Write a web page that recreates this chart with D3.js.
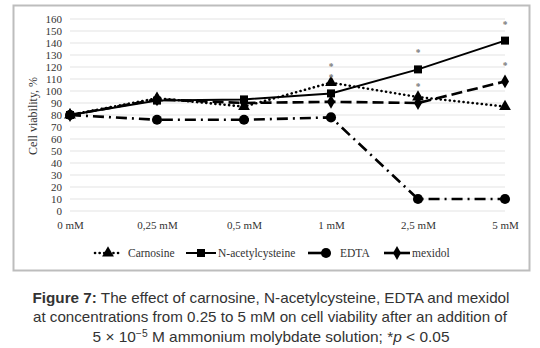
<!DOCTYPE html>
<html>
<head>
<meta charset="utf-8">
<script src="https://cdn.jsdelivr.net/npm/d3@7.9.0/dist/d3.min.js"></script>
<style>
  body { margin: 0; background: #fff; }
  svg { display: block; }
  .caption { font-family: "Liberation Sans", Arial, sans-serif; font-size: 15px; fill: #333; }
</style>
</head>
<body>
<svg id="chart" width="540" height="348"></svg>
<script>
// data
const categories = ['0 mM', '0,25 mM', '0,5 mM', '1 mM', '2,5 mM', '5 mM'];
const carnosine = [80, 94, 87, 107, 95, 87];
const nac = [80, 92, 93, 98, 118, 142];
const edta = [80, 76, 76, 78, 10, 10];
const mexidol = [80, 93, 90, 91, 90, 108];
const yTicks = d3.range(0, 161, 10);
// significance stars: [category index, value]
const stars = [[3, 123], [3, 114], [4, 135], [4, 106], [5, 158], [5, 124]];

const series = [
  { name: 'Carnosine', values: carnosine, dash: '0.1 4.5', cap: 'round', width: 2.6, marker: d3.symbolTriangle, size: 60 },
  { name: 'N-acetylcysteine', values: nac, dash: null, cap: 'butt', width: 2, marker: d3.symbolSquare, size: 64 },
  { name: 'EDTA', values: edta, dash: '11 5 2 5', cap: 'butt', width: 2.6, marker: d3.symbolCircle, size: 80 },
  { name: 'mexidol', values: mexidol, dash: '11 5', cap: 'butt', width: 2.6, marker: d3.symbolDiamond, size: 55 }
];

const svg = d3.select('#chart');
const font = '"Liberation Serif", "Times New Roman", serif';

// outer frame
svg.append('rect')
  .attr('x', 13.5).attr('y', 5.5).attr('width', 516).attr('height', 265)
  .attr('fill', '#fff').attr('stroke', '#bdbdbd').attr('stroke-width', 2);

const x = d3.scalePoint().domain(categories).range([70, 505]);
const y = d3.scaleLinear().domain([0, 160]).range([211, 19]);

// gridlines
svg.append('g').selectAll('line').data(yTicks).join('line')
  .attr('x1', 70).attr('x2', 505)
  .attr('y1', d => y(d)).attr('y2', d => y(d))
  .attr('stroke', '#e3e3e3').attr('stroke-width', 1);

// y axis labels
const yAxis = svg.append('g').attr('transform', 'translate(66,0)')
  .call(d3.axisLeft(y).tickValues(yTicks).tickSize(0).tickPadding(4));
yAxis.select('.domain').remove();
yAxis.selectAll('text').attr('font-family', font).attr('font-size', 11).attr('fill', '#333');

// x axis labels
const xAxis = svg.append('g').attr('transform', 'translate(0,221)')
  .call(d3.axisBottom(x).tickSize(0).tickPadding(0));
xAxis.select('.domain').remove();
xAxis.selectAll('text').attr('font-family', font).attr('font-size', 11).attr('fill', '#333');

// y title
svg.append('text')
  .attr('transform', 'translate(37,116) rotate(-90)')
  .attr('text-anchor', 'middle')
  .attr('font-family', font).attr('font-size', 12).attr('fill', '#333')
  .text('Cell viability, %');

const line = d3.line().x((d, i) => x(categories[i])).y(d => y(d));

series.forEach(s => {
  svg.append('path')
    .attr('d', line(s.values))
    .attr('fill', 'none').attr('stroke', '#000')
    .attr('stroke-width', s.width)
    .attr('stroke-dasharray', s.dash)
    .attr('stroke-linecap', s.cap);
  svg.append('g').selectAll('path').data(s.values).join('path')
    .attr('transform', (d, i) => `translate(${x(categories[i])},${y(d)})`)
    .attr('d', d3.symbol().type(s.marker).size(s.size))
    .attr('fill', '#000');
});

// stars
svg.append('g').selectAll('text').data(stars).join('text')
  .attr('x', d => x(categories[d[0]]))
  .attr('y', d => y(d[1]) + 6.5)
  .attr('text-anchor', 'middle')
  .attr('font-family', font).attr('font-size', 9.5).attr('font-weight', 'bold').attr('fill', '#7a7a7a')
  .text('*');

// legend: line start, line end, marker position, text start
const legendPos = [
  [95, 122, 108, 128],
  [186, 216, 201, 218],
  [308, 326, 326, 340],
  [384, 410, 397, 412]
];
series.forEach((s, i) => {
  const g = svg.append('g');
  const ly = 253;
  const [x0, x1, xm, xt] = legendPos[i];
  g.append('line')
    .attr('x1', x0).attr('x2', x1).attr('y1', ly).attr('y2', ly)
    .attr('stroke', '#000').attr('stroke-width', s.width)
    .attr('stroke-dasharray', s.name === 'Carnosine' ? s.dash : null)
    .attr('stroke-linecap', s.cap);
  g.append('path')
    .attr('transform', `translate(${xm},${ly})`)
    .attr('d', d3.symbol().type(s.marker).size(s.size))
    .attr('fill', '#000');
  g.append('text')
    .attr('x', xt).attr('y', ly + 4)
    .attr('font-family', font).attr('font-size', 11.5).attr('fill', '#333')
    .text(s.name);
});

// caption
const cap = svg.append('g').attr('class', 'caption').attr('text-anchor', 'middle');
const l1 = cap.append('text').attr('x', 271).attr('y', 303).attr('textLength', 477).attr('lengthAdjust', 'spacingAndGlyphs');
l1.append('tspan').attr('font-weight', 'bold').text('Figure 7:');
l1.append('tspan').text(' The effect of carnosine, N-acetylcysteine, EDTA and mexidol');
cap.append('text').attr('x', 270).attr('y', 322).attr('textLength', 474).attr('lengthAdjust', 'spacingAndGlyphs')
  .text('at concentrations from 0.25 to 5 mM on cell viability after an addition of');
const l3 = cap.append('text').attr('x', 271).attr('y', 342).attr('textLength', 357).attr('lengthAdjust', 'spacingAndGlyphs');
l3.append('tspan').text('5 × 10');
l3.append('tspan').attr('dy', -5).attr('font-size', 10).text('−5');
l3.append('tspan').attr('dy', 5).text(' M ammonium molybdate solution; *');
l3.append('tspan').attr('font-style', 'italic').text('p');
l3.append('tspan').text(' < 0.05');
</script>
</body>
</html>
